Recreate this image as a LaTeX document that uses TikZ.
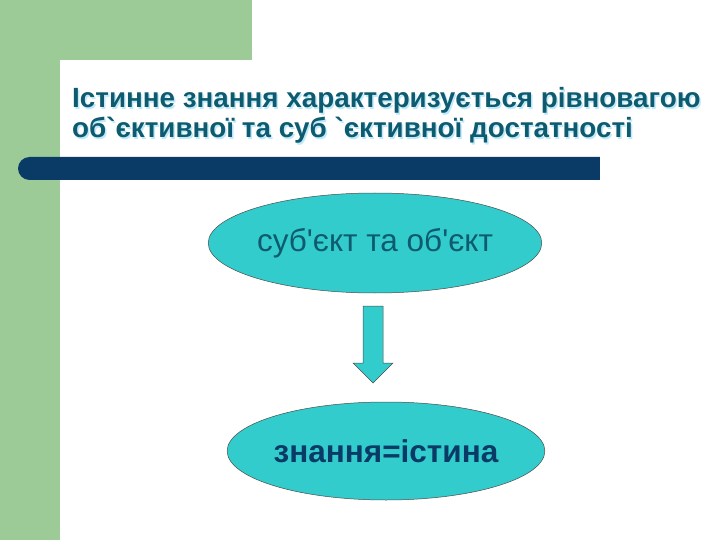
\documentclass[tikz,border=0pt]{standalone}
\usepackage{fontspec}
\setmainfont[Ligatures=NoCommon]{Liberation Sans}
\usetikzlibrary{shapes.geometric}
\definecolor{grn}{HTML}{9CCB98}
\definecolor{navy}{HTML}{0A3A66}
\definecolor{ttl}{HTML}{0E5A6E}
\definecolor{cy}{HTML}{33CCCC}
\tikzset{oval/.style={ellipse,draw=black!70,line width=0.5pt,fill=cy,inner sep=0pt},
 ttltext/.style={anchor=base west,font=\bfseries\fontsize{27.8}{32}\selectfont,text=ttl,inner sep=0pt}}
\begin{document}
\begin{tikzpicture}[x=1pt,y=-1pt]
\useasboundingbox (0,0) rectangle (720,540);
\fill[white] (0,0) rectangle (720,540);
\fill[grn] (0,0) rectangle (252,60);
\fill[grn] (0,0) rectangle (60,540);
\fill[white] (60,80) arc[start angle=180,end angle=90,x radius=20pt,y radius=-20pt] -- (720,60) -- (720,540) -- (60,540) -- cycle;
\fill[navy,rounded corners=11.5pt] (18,157) rectangle (612,180);
\fill[navy] (590,157) rectangle (600,180);
\fill[white] (600,150) rectangle (620,190);
\node[ttltext,text=cyan!25] at (73.5,109.5) {Істинне знання характеризується рівновагою};
\node[ttltext,text=cyan!25] at (73.5,139.5) {об\textasciigrave єктивної та суб \textasciigrave єктивної достатності};
\node[ttltext] (t1) at (72,108) {Істинне знання характеризується рівновагою};
\node[ttltext] (t2) at (72,138) {об\textasciigrave єктивної та суб \textasciigrave єктивної достатності};
\node[oval,minimum width=330pt,minimum height=100pt,font=\fontsize{31.5}{36}\selectfont,text=ttl] (e1) at (375,243) {суб\textquotesingle єкт та об\textquotesingle єкт};
\node[oval,minimum width=316pt,minimum height=98pt,font=\bfseries\fontsize{31.5}{36}\selectfont,text=navy] (e2) at (386,451) {знання=істина};
\draw[black!70,line width=0.5pt,fill=cy] (363,306) -- (383,306) -- (383,363) -- (393,363) -- (373,383) -- (353,363) -- (363,363) -- cycle;
\end{tikzpicture}
\end{document}
